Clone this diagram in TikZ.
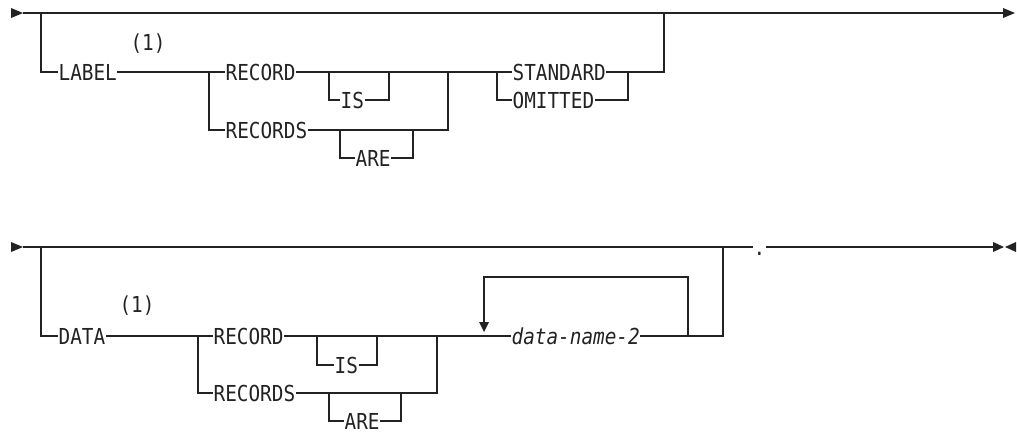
\documentclass[tikz,border=0pt]{standalone}
\usepackage{fontspec}
\newfontfamily\kwf{DejaVu Sans Mono}[FakeStretch=0.88]
\usetikzlibrary{arrows.meta}
\definecolor{ink}{HTML}{222222}
\begin{document}
\begin{tikzpicture}[x=1pt,y=-1pt,line width=1.2pt,draw=ink,
  kw/.style={anchor=west,inner sep=0pt,text=ink,font=\kwf\fontsize{22}{24}\selectfont,text height=16pt,text depth=0pt},
  note/.style={inner sep=0pt,text=ink,font=\kwf\fontsize{22}{24}\selectfont},
  tri/.style={fill=ink,draw=none}]
\useasboundingbox (0,0) rectangle (1017,434);

% ================= top diagram =================
\coordinate (tS) at (23,13);
\coordinate (tE) at (1003,13);
\fill[ink] (11,8) -- (tS) -- (11,18) -- cycle;
\fill[ink] (1003,8) -- (1015,13) -- (1003,18) -- cycle;
\draw (tS) -- (tE);

\coordinate (tb) at (41,13);
\node[kw] (label) at (58,72) {LABEL};
\node[note] (n1) at (148,44) {(1)};
\draw (tb) |- (label.west);
\coordinate (s1) at (209,72);
\draw (label.east) -- (s1);

\node[kw] (rec) at (225,72) {RECORD};
\node[kw] (recs) at (225,130) {RECORDS};
\draw (s1) -- (rec.west);
\draw (s1) |- (recs.west);

\coordinate (j1) at (448,72);
\coordinate (isL) at (329,72);
\coordinate (isR) at (389,72);
\node[kw] (is) at (340,100) {IS};
\draw (rec.east) -- (j1);
\draw (isL) |- (is.west);
\draw (is.east) -| (isR);

\coordinate (areL) at (340,130);
\coordinate (areR) at (413,130);
\node[kw] (are) at (355,158) {ARE};
\draw (recs.east) -| (j1);
\draw (areL) |- (are.west);
\draw (are.east) -| (areR);

\coordinate (s2) at (497,72);
\coordinate (j2) at (628,72);
\node[kw] (std) at (512,72) {STANDARD};
\node[kw] (omi) at (512,100) {OMITTED};
\draw (j1) -- (std.west);
\draw (s2) |- (omi.west);
\draw (std.east) -- (j2);
\draw (omi.east) -| (j2);
\coordinate (tj) at (664,13);
\draw (j2) -| (tj);

% ================= bottom diagram =================
\coordinate (bS) at (23,247);
\coordinate (bb) at (41,247);
\coordinate (bj) at (723,247);
\fill[ink] (11,242) -- (bS) -- (11,252) -- cycle;
\node[kw] (dot) at (753,247) {.};
\draw (bS) -- (dot.west);
\coordinate (bE) at (993,247);
\draw (dot.east) -- (bE);
\fill[ink] (993,242) -- (1004,247) -- (993,252) -- cycle;
\fill[ink] (1016,242) -- (1005,247) -- (1016,252) -- cycle;

\node[kw] (data) at (58,336) {DATA};
\node[note] (n2) at (137,306) {(1)};
\draw (bb) |- (data.west);
\coordinate (s3) at (198,336);
\draw (data.east) -- (s3);

\node[kw] (brec) at (213,336) {RECORD};
\node[kw] (brecs) at (213,393) {RECORDS};
\draw (s3) -- (brec.west);
\draw (s3) |- (brecs.west);

\coordinate (j3) at (437,336);
\coordinate (bisL) at (317,336);
\coordinate (bisR) at (377,336);
\node[kw] (bis) at (334,365) {IS};
\draw (brec.east) -- (j3);
\draw (bisL) |- (bis.west);
\draw (bis.east) -| (bisR);

\coordinate (bareL) at (329,393);
\coordinate (bareR) at (401,393);
\node[kw] (bare) at (344,421) {ARE};
\draw (brecs.east) -| (j3);
\draw (bareL) |- (bare.west);
\draw (bare.east) -| (bareR);

\node[kw] (dn) at (511,336) {\itshape data-name-2};
\draw (j3) -- (dn.west);
\coordinate (rp) at (688,336);
\draw (dn.east) -- (rp) -- (723,336) -- (bj);
\coordinate (rtop) at (484,277);
\coordinate (rend) at (484,322);
\draw (rp) |- (rtop) -- (rend);
\fill[ink] (479,322) -- (489,322) -- (484,332) -- cycle;
\end{tikzpicture}
\end{document}
